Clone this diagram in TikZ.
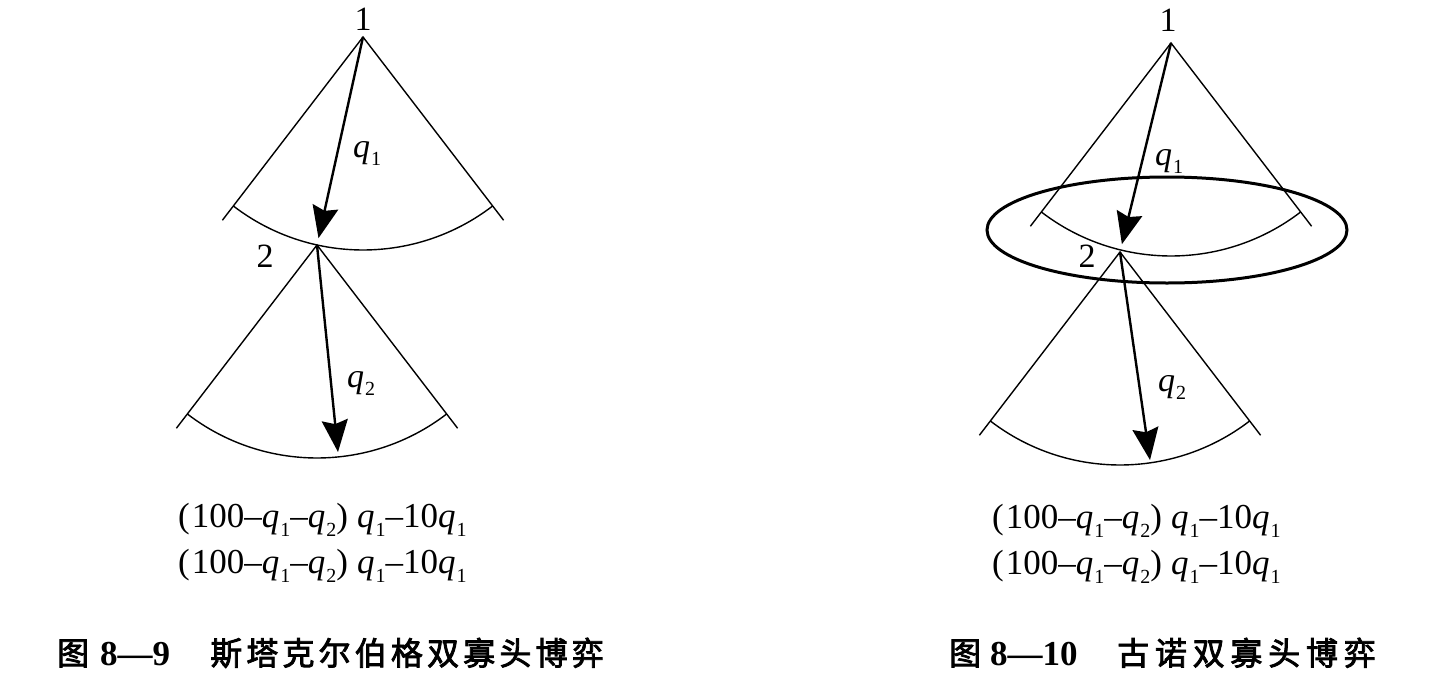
\documentclass[tikz,border=0pt]{standalone}
\usepackage{fontspec}
\setmainfont{Liberation Serif}
\newfontfamily\cjk{Noto Sans CJK SC}[FakeBold=2.5]
\usetikzlibrary{arrows.meta,calc}
\newcommand\qs[1]{\textit{q}\kern1pt\raisebox{-0.26em}{\fontsize{20}{20}\selectfont #1}}
\newcommand\drawfan[1]{%
  \draw[fanline] ($(#1)+(127.5:231)$) -- (#1) -- ($(#1)+(52.5:231)$);
  \draw[fanline] ($(#1)+(127.5:213)$) arc[start angle=127.5,end angle=52.5,radius=213];}
\begin{document}
\begin{tikzpicture}[x=1pt,y=-1pt,
  fanline/.style={line width=1.4pt},
  arr/.style={line width=2.4pt,-{Stealth[length=32pt,width=26pt,inset=4pt]}},
  lbl/.style={inner sep=0pt,font=\fontsize{34}{40}\selectfont},
  expr/.style={inner sep=0pt,anchor=base west,font=\fontsize{35}{40}\selectfont},
  captxt/.style={inner sep=0pt,anchor=base west,font=\fontsize{32}{38}\selectfont},
  capnum/.style={inner sep=0pt,anchor=base west,font=\fontsize{35}{38}\selectfont\bfseries}]
\useasboundingbox (0,0) rectangle (1430,683);
% ---------- left figure ----------
\coordinate (A1) at (363,37);
\coordinate (B1) at (317,245);
\coordinate (C1) at (338,452);
\drawfan{A1}
\drawfan{B1}
\draw[arr,shorten >=7pt] (A1) -- (B1);
\draw[arr] (B1) -- (C1);
\node[lbl,anchor=base] (n1L) at (363,30) {1};
\node[lbl,anchor=base] (n2L) at (265,267) {2};
\node[lbl,anchor=base west] (q1L) at (353,157) {\qs1};
\node[lbl,anchor=base west] (q2L) at (347,387) {\qs2};
\node[expr] (e1L) at (178,527) {(\kern2pt100–\qs1–\qs2)\hspace{9pt}\qs1–10\qs1};
\node[expr] (e2L) at (178,573) {(\kern2pt100–\qs1–\qs2)\hspace{9pt}\qs1–10\qs1};
\node[captxt] (c1L) at (57,665) {\cjk 图};
\node[capnum] (c2L) at (100,665) {8—9};
\node[captxt] (c3L) at (210,665) {\cjk\addfontfeatures{LetterSpace=13}斯塔克尔伯格双寡头博弈};
% ---------- right figure ----------
\coordinate (A2) at (1171,43);
\coordinate (B2) at (1120,252);
\coordinate (C2) at (1150,460);
\drawfan{A2}
\drawfan{B2}
\draw[line width=3pt] (1167,230) ellipse [x radius=180, y radius=53];
\draw[arr,shorten >=8pt] (A2) -- (B2);
\draw[arr] (B2) -- (C2);
\node[lbl,anchor=base] (n1R) at (1168,31) {1};
\node[lbl,anchor=base] (n2R) at (1087,267) {2};
\node[lbl,anchor=base west] (q1R) at (1155,165) {\qs1};
\node[lbl,anchor=base west] (q2R) at (1158,391) {\qs2};
\node[expr] (e1R) at (992,528) {(\kern2pt100–\qs1–\qs2)\hspace{9pt}\qs1–10\qs1};
\node[expr] (e2R) at (992,574) {(\kern2pt100–\qs1–\qs2)\hspace{9pt}\qs1–10\qs1};
\node[captxt] (c1R) at (949,665) {\cjk 图};
\node[capnum] (c2R) at (990,665) {8—10};
\node[captxt] (c3R) at (1117,665) {\cjk\addfontfeatures{LetterSpace=18}古诺双寡头博弈};
\end{tikzpicture}
\end{document}
